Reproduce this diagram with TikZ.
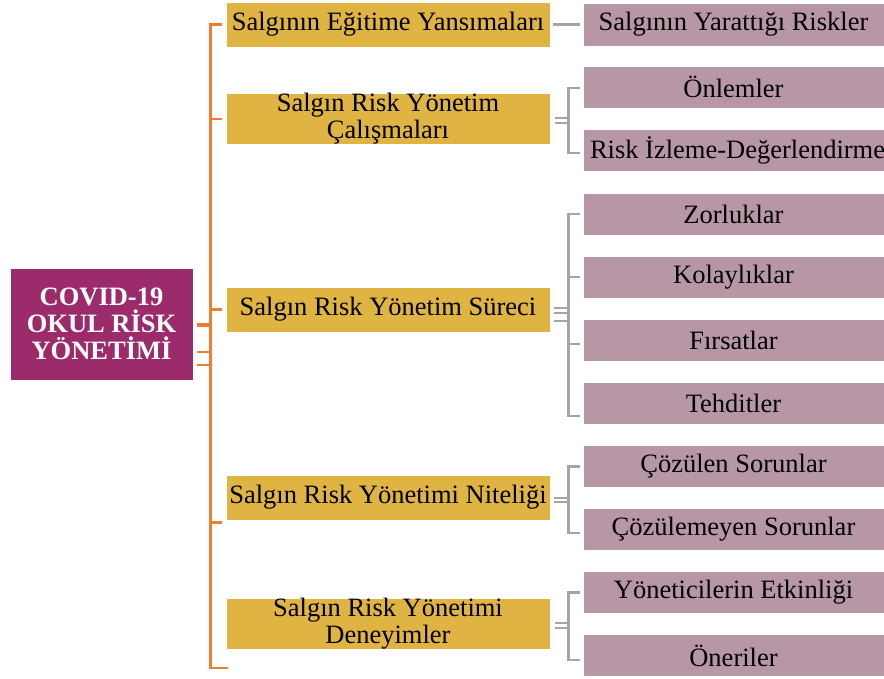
\documentclass[tikz,border=0pt]{standalone}
\usepackage{fontspec}
\setmainfont{Liberation Serif}
\usepackage{tikz}
\usetikzlibrary{positioning}
\definecolor{rootPurple}{HTML}{9C2B6C}
\definecolor{topicGold}{HTML}{DFB443}
\definecolor{subMauve}{HTML}{B797A6}
\definecolor{trunkOrange}{HTML}{ED7D31}
\definecolor{branchGray}{HTML}{A5A5A5}
\newcommand{\boxFont}{\fontsize{26.5}{27}\selectfont}

\begin{document}
\begin{tikzpicture}[x=1pt,y=-1pt,
    rootbox/.style={fill=rootPurple,draw=white,line width=0.6pt,text=white,font=\boxFont\bfseries,
      align=center,minimum width=183pt,minimum height=112pt,inner sep=0pt},
    topicbox/.style={fill=topicGold,draw=white,line width=0.6pt,font=\boxFont,
      align=center,minimum width=324pt,minimum height=45pt,inner sep=0pt},
    subbox/.style={fill=subMauve,draw=white,line width=0.6pt,font=\boxFont,
      align=center,minimum width=301pt,minimum height=42pt,inner sep=0pt},
    orangeline/.style={draw=trunkOrange,line width=2.6pt},
    grayline/.style={draw=branchGray,line width=2.6pt},
    twinline/.style={draw=branchGray,line width=1.8pt}]
        \useasboundingbox (0,0) rectangle (884,678);
        % root
        \node[rootbox] (root) at (101.5,324){COVID-19\\OKUL RİSK\\YÖNETİMİ};
        % first level
        \node[topicbox] (egitim) at (388,24.5){Salgının Eğitime Yansımaları};
        \node[topicbox,minimum height=46pt] (calisma) at (388,119){Salgın Risk Yönetim\\Çalışmaları};
        \node[topicbox] (surec) at (388,309.5){Salgın Risk Yönetim Süreci};
        \node[topicbox] (nitelik) at (388,497.5){Salgın Risk Yönetimi Niteliği};
        \node[topicbox,minimum height=46pt] (deneyim) at (388,624){Salgın Risk Yönetimi\\Deneyimler};
        % second level
        \node[subbox,minimum height=43pt] (riskler) at (733.5,24.5){Salgının Yarattığı Riskler};
        \node[subbox] (onlem) at (733.5,87){Önlemler};
        \node[subbox] (izleme) at (733.5,150.5){\makebox[287pt][l]{Risk İzleme-Değerlendirme}};
        \node[subbox] (zorluk) at (733.5,214){Zorluklar};
        \node[subbox] (kolay) at (733.5,277){Kolaylıklar};
        \node[subbox] (firsat) at (733.5,340){Fırsatlar};
        \node[subbox] (tehdit) at (733.5,403){Tehditler};
        \node[subbox] (cozulen) at (733.5,466.5){Çözülen Sorunlar};
        \node[subbox] (cozulmeyen) at (733.5,529.5){Çözülemeyen Sorunlar};
        \node[subbox] (etkinlik) at (733.5,592.5){Yöneticilerin Etkinliği};
        \node[subbox] (oneri) at (733.5,655.5){Öneriler};
        % orange trunk
        \draw[orangeline] ([xshift=-4pt]egitim.west) -- ++(-11,0) |- ([xshift=2pt,yshift=-18pt]deneyim.south west);
        \draw[orangeline] ([xshift=-4pt]calisma.west) -- ++(-11,0);
        \draw[orangeline] ([xshift=-4pt]surec.west) -- ++(-11,0);
        \draw[orangeline] ([xshift=-4pt,yshift=-2pt]nitelik.south west) -- ++(-11,0);
        \draw[orangeline,line width=4.2pt] ([xshift=4pt,yshift=-1pt]root.east) -- ++(14,0);
        \draw[orangeline,line width=1.8pt] ([xshift=4pt,yshift=-28pt]root.east) -- ++(14,0);
        \draw[orangeline,line width=1.8pt] ([xshift=4pt,yshift=-41pt]root.east) -- ++(14,0);
        % gray branches
        \draw[grayline,shorten <=3pt,shorten >=3pt] (egitim.east) -- (riskler.west);
        \foreach \dy in {1,-4}
          \draw[twinline] ([xshift=5pt,yshift=\dy pt]calisma.east) -- ++(14,0);
        \draw[grayline] ([xshift=-3pt,yshift=-1pt]onlem.west) -- ++(-11,0) |- ([xshift=-3pt,yshift=-2.5pt]izleme.west);
        \foreach \dy in {1.5,-3.5,-11.5}
          \draw[twinline] ([xshift=4pt,yshift=\dy pt]surec.east) -- ++(15,0);
        \draw[grayline] ([xshift=-3pt]zorluk.west) -- ++(-11,0) |- ([xshift=-3pt,yshift=-13pt]tehdit.west);
        \draw[grayline] ([xshift=-3pt]kolay.west) -- ++(-11,0);
        \draw[grayline] ([xshift=-3pt,yshift=-4pt]firsat.west) -- ++(-11,0);
        \foreach \dy in {-0.5,-4.5}
          \draw[twinline] ([xshift=4pt,yshift=\dy pt]nitelik.east) -- ++(15,0);
        \draw[grayline] ([xshift=-3pt]cozulen.west) -- ++(-11,0) |- ([xshift=-3pt,yshift=-3.5pt]cozulmeyen.west);
        \foreach \dy in {1,-4}
          \draw[twinline] ([xshift=5pt,yshift=\dy pt]deneyim.east) -- ++(14,0);
        \draw[grayline] ([xshift=-3pt]etkinlik.west) -- ++(-11,0) |- ([xshift=-3pt,yshift=-4.5pt]oneri.west);
      \end{tikzpicture}
\end{document}
